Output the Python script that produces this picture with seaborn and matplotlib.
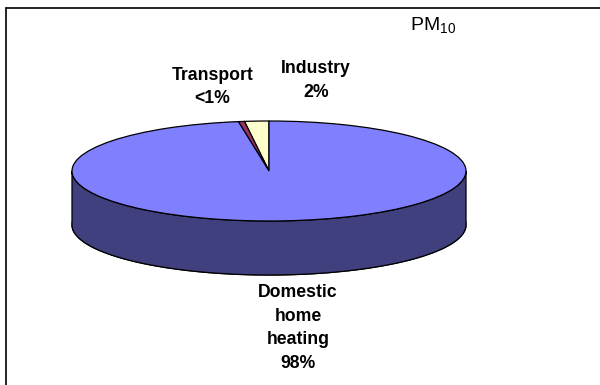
import numpy as np
import matplotlib
matplotlib.use("Agg")
import matplotlib.pyplot as plt
from matplotlib.lines import Line2D
from matplotlib.patches import Polygon
import seaborn as sns

# PM10 emission sources (share of total, %)
categories = ["Industry", "Transport", "Domestic home heating"]
shares = [2.0, 0.5, 98.0]
label_lines = [["Industry"], ["Transport"], ["Domestic", "home", "heating"]]
top_colors = ["#FFFFCC", "#993366", "#8080FF"]
side_colors = ["#80805F", "#4C1933", "#40407F"]

sns.set_theme(style="white")
plt.rcParams["font.family"] = ["Liberation Sans", "DejaVu Sans"]
plt.rcParams["mathtext.default"] = "regular"

fig = plt.figure(figsize=(6.0, 3.85), dpi=100)
ax = fig.add_axes([0, 0, 1, 1])

depth = 1.08  # thickness of the disc, in y data units
edge = dict(edgecolor="black", linewidth=0.9)

# bottom face of the disc
ax.pie(shares, colors=side_colors, startangle=90, counterclock=True,
       center=(0, -depth), wedgeprops=edge)

# top face of the disc
wedges, _ = ax.pie(shares, colors=top_colors, startangle=90, counterclock=True,
                   center=(0, 0), wedgeprops=edge)

# visible front wall for each slice (angles 180..360)
for w, c in zip(wedges, side_colors):
    t1, t2 = w.theta1, w.theta2
    segs = []
    for off in (-360, 0, 360):
        a, b = max(t1 + off, 180), min(t2 + off, 360)
        if b > a:
            segs.append((a, b))
    for a, b in segs:
        t = np.radians(np.linspace(a, b, 200))
        top = np.column_stack([np.cos(t), np.sin(t)])
        bot = np.column_stack([np.cos(t[::-1]), np.sin(t[::-1]) - depth])
        ax.add_patch(Polygon(np.vstack([top, bot]), closed=True,
                             facecolor=c, zorder=1.5, **edge))
for w in wedges:
    w.set_zorder(2)

def pct(v):
    return "<1%" if v < 1 else f"{v:.0f}%"

label_pos = [(0.239, 1.81), (-0.287, 1.68), (0.147, -3.14)]
for lines, v, (x, y) in zip(label_lines, shares, label_pos):
    ax.text(x, y, "\n".join(lines + [pct(v)]), ha="center", va="center",
            fontsize=12.7, fontweight="bold", linespacing=1.5, color="black")

ax.set_aspect("auto")
ax.set_xlim(-269 / 197, (600 - 269) / 197)
ax.set_ylim(-214 / 50, 171 / 50)
ax.axis("off")

fig.text(433 / 600, 1 - 25 / 385, "PM$_{10}$", ha="center", va="center",
         fontsize=14, color="black")

# chart area border (left and top edges)
fig.add_artist(Line2D([6 / 600, 6 / 600], [0, 1 - 8 / 385], color="black",
                      linewidth=1.2, transform=fig.transFigure))
fig.add_artist(Line2D([6 / 600, 1], [1 - 8 / 385, 1 - 8 / 385], color="black",
                      linewidth=1.2, transform=fig.transFigure))

fig.savefig("out.png", dpi=100, facecolor="white")
